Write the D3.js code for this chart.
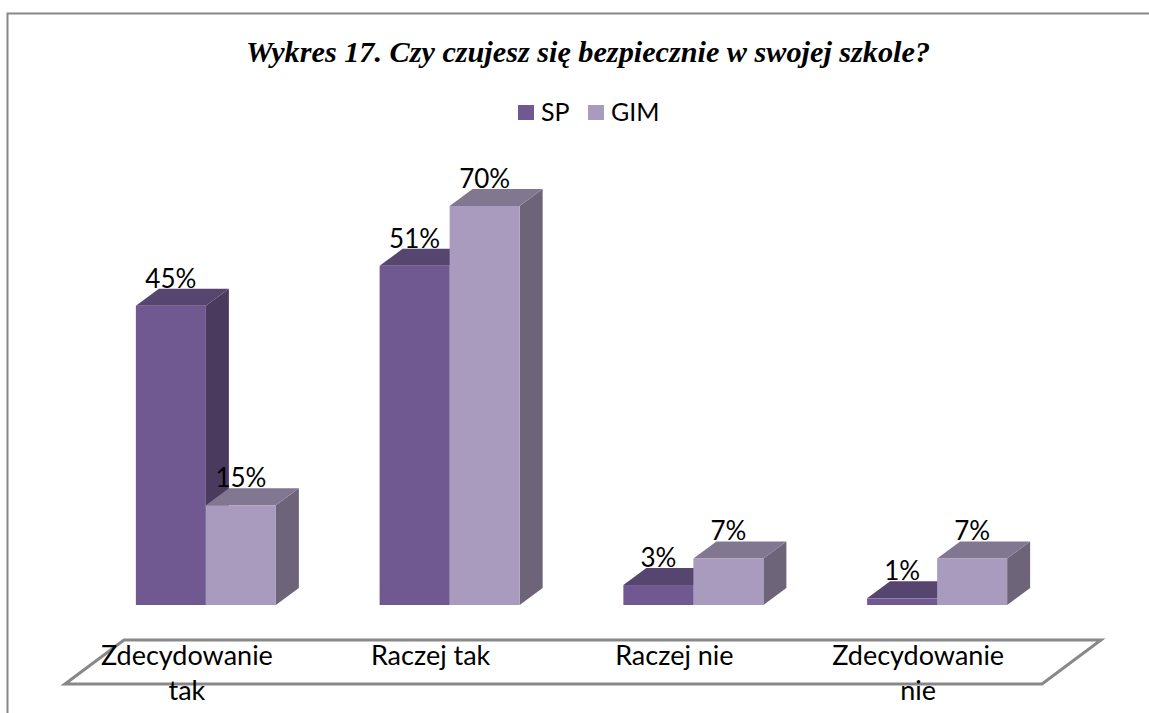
<!DOCTYPE html>
<html lang="pl">
<head>
<meta charset="UTF-8">
<script src="https://cdn.jsdelivr.net/npm/d3@7"></script>
<title>Wykres 17</title>
<style>
    body { margin: 0; background: white; }
    svg { display: block; }
    .value, .cat, .legend-text { font-family: Lato, "Open Sans", sans-serif; fill: #000; }
</style>
</head>
<body>
<div id="chart"></div>
<script>
    const categories = [["Zdecydowanie", "tak"], ["Raczej tak"], ["Raczej nie"], ["Zdecydowanie", "nie"]];
    const series = ["SP", "GIM"];
    const spValues = [0.45, 0.51, 0.03, 0.01];
    const gimValues = [0.15, 0.70, 0.07, 0.07];
    const valueLabels = [["45%", "51%", "3%", "1%"], ["15%", "70%", "7%", "7%"]];

    const width = 1149, height = 713;
    const depth = { dx: 23, dy: -17 };
    const floorDepth = { dx: 59, dy: -44 };

    const colors = {
        SP: { front: "#705890", top: "#56456f", side: "#4a3a5e" },
        GIM: { front: "#a99bbe", top: "#827791", side: "#6d6479" }
    };

    const svg = d3.select("#chart").append("svg")
        .attr("width", width)
        .attr("height", height);

    // frame
    svg.append("path")
        .attr("d", "M7.5,713 V13.5 H1149")
        .attr("fill", "none")
        .attr("stroke", "#888")
        .attr("stroke-width", 2);

    // title
    svg.append("text")
        .attr("x", 246)
        .attr("y", 62)
        .attr("textLength", 684)
        .attr("lengthAdjust", "spacingAndGlyphs")
        .style("font-family", "'Liberation Serif', 'Times New Roman', serif")
        .style("font-weight", "bold")
        .style("font-style", "italic")
        .style("font-size", "29px")
        .text("Wykres 17. Czy czujesz się bezpiecznie w swojej szkole?");

    // legend
    const legend = svg.append("g");
    const legendX = [518, 588];
    series.forEach((s, i) => {
        legend.append("rect")
            .attr("x", legendX[i]).attr("y", 105)
            .attr("width", 16).attr("height", 15)
            .attr("fill", colors[s].front);
        legend.append("text")
            .attr("class", "legend-text")
            .attr("x", legendX[i] + 23).attr("y", 121)
            .style("font-size", "25px")
            .text(s);
    });

    const catKeys = categories.map(c => c.join(" "));
    const x0 = d3.scaleBand()
        .domain(catKeys)
        .range([84, 1059])
        .paddingInner(0.4256)
        .paddingOuter(0.2128);
    const x1 = d3.scaleBand()
        .domain(series)
        .range([0, x0.bandwidth()]);
    // axis max is 60%, taller bars are cut at the top
    const y = d3.scaleLinear().domain([0, 0.6]).range([605, 206]).clamp(true);

    // floor
    const fx0 = 65, fx1 = 1042, fy = 684;
    svg.append("polygon")
        .attr("points", [
            [fx0, fy], [fx0 + floorDepth.dx, fy + floorDepth.dy],
            [fx1 + floorDepth.dx, fy + floorDepth.dy], [fx1, fy]
        ].map(p => p.join(",")).join(" "))
        .attr("fill", "white")
        .attr("stroke", "#888")
        .attr("stroke-width", 3);

    // category labels
    categories.forEach((lines, i) => {
        const t = svg.append("text")
            .attr("class", "cat")
            .attr("text-anchor", "middle")
            .style("font-size", "27px");
        lines.forEach((ln, j) => {
            t.append("tspan")
                .attr("x", x0(catKeys[i]) + x0.bandwidth() / 2 - 19)
                .attr("y", 665 + j * 35)
                .text(ln);
        });
    });

    // bars
    const data = catKeys.map((k, i) => [
        { cat: k, s: "SP", v: spValues[i], label: valueLabels[0][i] },
        { cat: k, s: "GIM", v: gimValues[i], label: valueLabels[1][i] }
    ]);

    const bars = svg.append("g");
    data.forEach(group => {
        group.forEach(d => {
            const xl = x0(d.cat) + x1(d.s);
            const xr = xl + x1.bandwidth();
            const yt = y(d.v), yb = y(0);
            const c = colors[d.s];
            bars.append("polygon")
                .attr("points", [[xr, yb], [xr, yt], [xr + depth.dx, yt + depth.dy], [xr + depth.dx, yb + depth.dy]].join(" "))
                .attr("fill", c.side);
            bars.append("polygon")
                .attr("points", [[xl, yt], [xl + depth.dx, yt + depth.dy], [xr + depth.dx, yt + depth.dy], [xr, yt]].join(" "))
                .attr("fill", c.top);
            bars.append("rect")
                .attr("x", xl).attr("y", yt)
                .attr("width", xr - xl).attr("height", yb - yt)
                .attr("fill", c.front);
        });
    });

    // value labels
    data.flat().forEach(d => {
        svg.append("text")
            .attr("class", "value")
            .attr("x", x0(d.cat) + x1(d.s) + x1.bandwidth() / 2)
            .attr("y", y(d.v) + depth.dy - 1)
            .attr("text-anchor", "middle")
            .style("font-size", "26px")
            .text(d.label);
    });
</script>
</body>
</html>
